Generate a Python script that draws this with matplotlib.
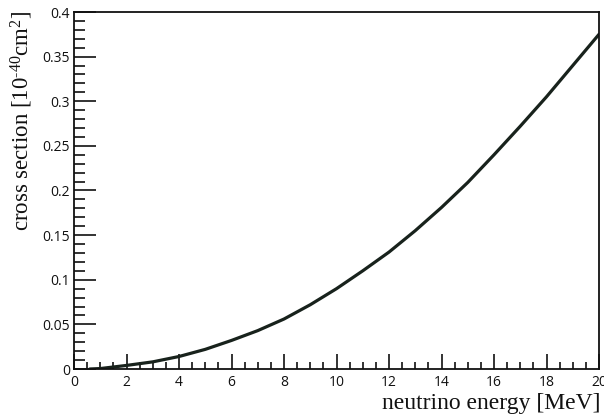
import matplotlib
matplotlib.use("Agg")
import matplotlib.pyplot as plt
from matplotlib.ticker import MultipleLocator, FixedFormatter, FixedLocator

plt.rcParams["mathtext.fontset"] = "custom"
plt.rcParams["mathtext.rm"] = "Liberation Serif"
plt.rcParams["mathtext.it"] = "Liberation Serif:italic"
plt.rcParams["mathtext.default"] = "rm"

energy = [0.6, 1, 2, 3, 4, 5, 6, 7, 8, 9, 10, 11, 12, 13, 14, 15, 16, 17, 18, 19, 20]
xsec = [0.0, 0.0005, 0.004, 0.008, 0.014, 0.022, 0.032, 0.043, 0.056, 0.072, 0.090,
        0.110, 0.131, 0.155, 0.181, 0.209, 0.240, 0.272, 0.305, 0.340, 0.375]

xticks = [0, 2, 4, 6, 8, 10, 12, 14, 16, 18, 20]
yticks = [0, 0.05, 0.1, 0.15, 0.2, 0.25, 0.3, 0.35, 0.4]
ytick_labels = ["0", "0.05", "0.1", "0.15", "0.2", "0.25", "0.3", "0.35", "0.4"]

fig = plt.figure(figsize=(6.04, 4.19), dpi=100)
W, H = 604, 419
ax = fig.add_axes([74 / W, 1 - 369 / H, (599 - 74) / W, (369 - 12) / H])

ax.plot(energy, xsec, color="#18221c", lw=2.3, solid_capstyle="round")

ax.set_xlim(0, 20)
ax.set_ylim(0, 0.4)
ax.xaxis.set_major_locator(FixedLocator(xticks))
ax.xaxis.set_minor_locator(MultipleLocator(0.5))
ax.yaxis.set_major_locator(FixedLocator(yticks))
ax.yaxis.set_major_formatter(FixedFormatter(ytick_labels))
ax.yaxis.set_minor_locator(MultipleLocator(0.01))

for s in ax.spines.values():
    s.set_linewidth(1.3)
    s.set_color("#111111")

ax.tick_params(axis="both", which="both", direction="in", top=False, right=False,
               colors="#111111", width=1.2)
ax.tick_params(axis="x", which="major", length=11, pad=4)
ax.tick_params(axis="x", which="minor", length=5)
ax.tick_params(axis="y", which="major", length=16, pad=3)
ax.tick_params(axis="y", which="minor", length=8)
for lab in ax.get_xticklabels() + ax.get_yticklabels():
    lab.set_fontfamily("Open Sans")
    lab.set_fontsize(10)

fig.text(600 / W, 1 - 403 / H, "neutrino energy [MeV]", ha="right", va="center",
         family="Liberation Serif", fontsize=17, color="#111111")
fig.text(22 / W, 1 - 11 / H, "cross section [10$^{\u2010 40}$cm$^{2}$]", ha="center", va="top",
         rotation=90, family="Liberation Serif", fontsize=16.5, color="#111111")

fig.savefig("out.png", dpi=100)
